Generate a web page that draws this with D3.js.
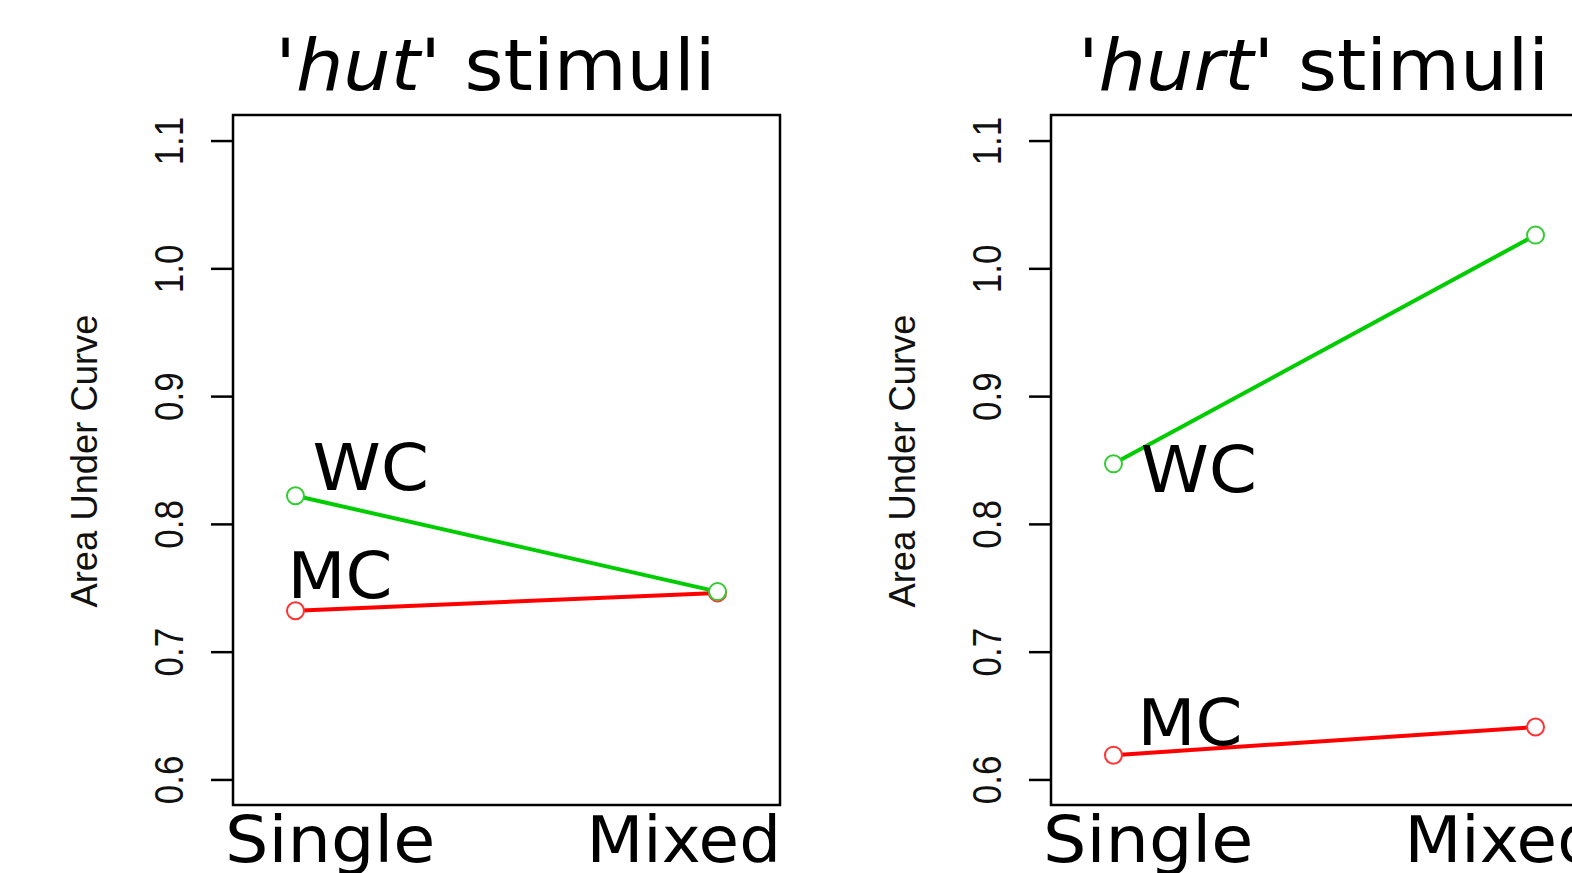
<!DOCTYPE html>
<html>
<head>
<meta charset="utf-8">
<script src="https://cdn.jsdelivr.net/npm/d3@7"></script>
<style>
  html, body { margin: 0; padding: 0; background: #fff; overflow: hidden; }
  svg { display: block; }
</style>
</head>
<body>
<svg id="chart" width="1572" height="873"></svg>
<script>
// ---- data ----
const conditions = ["Single", "Mixed"];
const panelWords = ["hut", "hurt"];
const yTicks = [0.6, 0.7, 0.8, 0.9, 1.0, 1.1];
const yTickLabels = ["0.6", "0.7", "0.8", "0.9", "1.0", "1.1"];
const seriesNames = ["WC", "MC"];
const hutWC = [0.822, 0.747];
const hutMC = [0.732, 0.746];
const hurtWC = [0.847, 1.026];
const hurtMC = [0.619, 0.641];
const yLabel = "Area Under Curve";

const panels = [
  { word: panelWords[0], series: [hutWC, hutMC] },
  { word: panelWords[1], series: [hurtWC, hurtMC] }
];
const colors = ["#00cd00", "#ff0000"];
const pointColors = ["#33cc33", "#ff3333"];
// label offsets (pixels) for WC / MC per panel
const labelOffsets = [
  [[18, -6], [-7, -13]],
  [[28, 28], [25, -10]]
];

const svg = d3.select("#chart");
const boxW = 547, boxH = 690, boxTop = 115;
const panelLefts = [233, 1051];
const bigFont = "'DejaVu Sans', Verdana, sans-serif";
const smallFont = "'Liberation Sans', Arial, sans-serif";

const x = d3.scaleLinear().domain([0.852, 2.148]).range([0, boxW]);
const y = d3.scaleLinear().domain([0.58, 1.12]).range([boxH, 0]);

function bigText(g, ax, ay, anchor, size, sx, str) {
  return g.append("text")
    .attr("transform", `translate(${ax},${ay}) scale(${sx},1)`)
    .attr("text-anchor", anchor)
    .style("font-family", bigFont)
    .style("font-size", size + "px")
    .attr("fill", "#000")
    .text(str);
}

panels.forEach((p, pi) => {
  const g = svg.append("g").attr("transform", `translate(${panelLefts[pi]},${boxTop})`);

  // title
  const t = g.append("text")
    .attr("transform", `translate(${boxW / 2 - 11},${90 - boxTop}) scale(1.04,1)`)
    .attr("text-anchor", "middle")
    .style("font-family", bigFont)
    .style("font-size", "72px")
    .attr("fill", "#000");
  t.append("tspan").style("font-style", "italic").text("'" + p.word + "'");
  t.append("tspan").text(" stimuli");

  // y axis
  const yAxis = d3.axisLeft(y).tickValues(yTicks).tickFormat((d, i) => yTickLabels[i]).tickSize(22).tickPadding(0);
  const ya = g.append("g").call(yAxis);
  ya.select(".domain").remove();
  ya.selectAll(".tick line").attr("stroke", "#000").attr("stroke-width", 2.5);
  ya.selectAll(".tick text")
    .attr("x", null).attr("dy", null)
    .attr("transform", "translate(-50,0) rotate(-90) scale(1,1.18)")
    .attr("text-anchor", "middle")
    .attr("fill", "#111")
    .style("font-family", smallFont)
    .style("font-size", "35px");

  // y axis title
  g.append("text")
    .attr("transform", `translate(${97 - 233},${boxH / 2 + 1}) rotate(-90) scale(1.07,1.1)`)
    .attr("text-anchor", "middle")
    .style("font-family", smallFont)
    .style("font-size", "34px")
    .attr("fill", "#111")
    .text(yLabel);

  // box
  g.append("rect")
    .attr("x", 0).attr("y", 0).attr("width", boxW).attr("height", boxH)
    .attr("fill", "none").attr("stroke", "#000").attr("stroke-width", 2.5);

  // x labels
  bigText(g, -8, boxH + 57, "start", 64, 1.07, conditions[0]);
  bigText(g, boxW + 1, boxH + 57, "end", 64, 1.03, conditions[1]);

  // series lines
  p.series.forEach((vals, si) => {
    const pts = vals.map((v, i) => [x(i + 1), y(v)]);
    g.append("path")
      .attr("d", d3.line()(pts))
      .attr("fill", "none")
      .attr("stroke", colors[si])
      .attr("stroke-width", 4);
  });
  // circles (MC first, WC on top)
  [1, 0].forEach(si => {
    const vals = p.series[si];
    g.selectAll(null).data(vals).enter().append("circle")
      .attr("cx", (d, i) => x(i + 1))
      .attr("cy", d => y(d))
      .attr("r", 8.5)
      .attr("fill", "#fff")
      .attr("stroke", pointColors[si])
      .attr("stroke-width", 2);
  });

  // series labels
  p.series.forEach((vals, si) => {
    const off = labelOffsets[pi][si];
    bigText(g, x(1) + off[0] - 1, y(vals[0]) + off[1], "start", 64, si === 0 ? 1.08 : 1.05, seriesNames[si]);
  });
});
</script>
</body>
</html>
